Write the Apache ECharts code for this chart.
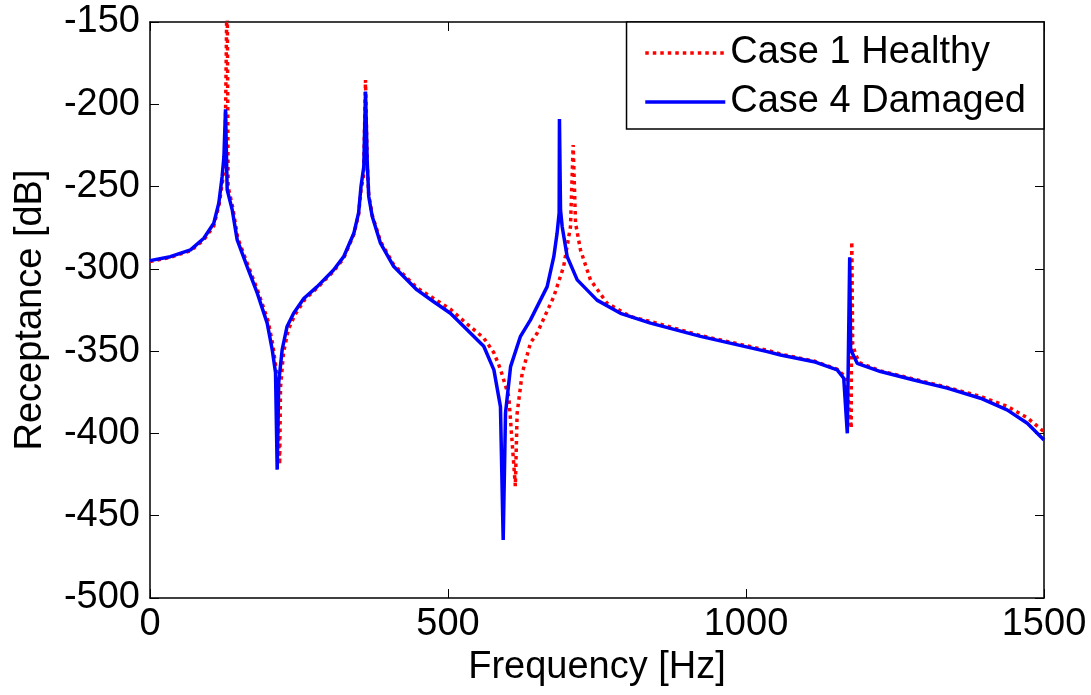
<!DOCTYPE html>
<html>
<head>
<meta charset="utf-8">
<script src="https://cdn.jsdelivr.net/npm/echarts@6/dist/echarts.min.js"></script>
<style>
html,body{margin:0;padding:0;background:#fff;}
#chart{width:1091px;height:695px;}
</style>
</head>
<body>
<div id="chart"></div>
<script>
// ---- data ----
const seriesNames = ['Case 1 Healthy', 'Case 4 Damaged'];
const xTicks = [0, 500, 1000, 1500];
const yTicks = [-500, -450, -400, -350, -300, -250, -200, -150];

const healthyFreq = [0, 34, 68, 90, 107, 116, 122, 126, 129.5, 131, 139, 147, 164, 181, 198, 206, 212, 217.5, 219, 224, 232, 243, 260, 282, 308, 325, 342, 350, 354, 358.5, 361.6, 364.4, 367, 373, 387, 409, 448, 476, 504, 532, 560, 577, 588, 602, 613, 616, 624.5, 638.4, 649.7, 664, 677.5, 694, 705.5, 710, 714, 722.3, 739, 767, 806, 839.8, 923.7, 1035.6, 1058, 1114, 1153, 1168, 1176.5, 1177.5, 1179, 1184, 1190, 1225.7, 1281.6, 1337.5, 1393.4, 1438, 1472, 1500];
const healthyDb   = [-295.5, -293, -289, -282.5, -274, -261, -246, -232, -120, -250, -263, -281, -297.5, -313.5, -331.5, -346, -362, -419, -372, -351, -337, -328, -318.5, -311, -301.5, -293.5, -279, -267, -252, -243, -185.2, -236, -255, -267.5, -283.5, -297.5, -311.5, -318, -324.5, -333.5, -342, -351, -361, -377.6, -432, -387.7, -363.4, -345, -339, -327.5, -316.9, -298.6, -274.4, -224.7, -272.3, -288.5, -306.7, -320.9, -329, -332, -340.5, -349.5, -351.8, -356, -361, -366, -397, -283.5, -346, -352, -357, -362, -367, -372, -377.5, -383.5, -390.5, -399];

const damagedFreq = [0, 34, 68, 90.3, 107, 115.5, 121, 124, 126.7, 129.5, 138, 146.3, 163, 180, 196.6, 205, 210.6, 213.4, 216, 221.8, 230, 241, 258, 280.5, 308, 325, 342, 350, 354, 358.7, 361.6, 364.4, 367, 372.8, 386.7, 409, 448, 476, 504, 532, 560, 577, 588, 592.6, 596.5, 605, 621.6, 638.4, 666.4, 677.5, 683, 686.5, 687, 688.8, 691.6, 700, 716.8, 750, 789.4, 839.8, 923.7, 1035.6, 1058, 1114, 1153, 1164, 1170, 1174, 1175.5, 1186.6, 1225.7, 1281.6, 1337.5, 1393.4, 1438, 1472, 1500];
const damagedDb   = [-295, -292.6, -288.5, -281.4, -272.3, -260, -244, -232, -203, -252, -264.2, -282.4, -298.6, -314.8, -333, -349, -363, -422, -369, -349, -335, -327, -318, -310.8, -300.7, -292.6, -278.4, -266, -250, -238, -192.3, -234, -256, -268, -284.4, -298.6, -312.8, -320, -327, -337, -347, -361.4, -383.7, -464.7, -387.6, -359.4, -341, -331, -310.8, -292.6, -278.4, -266, -209, -264.2, -274.4, -292.6, -306.7, -319, -327, -333, -341, -350.3, -352.3, -356.4, -361.4, -366.5, -399.9, -293, -349, -357.4, -362.4, -367.5, -372.5, -378.6, -385.7, -393.8, -404];

function pairs(xs, ys) { return xs.map((x, i) => [x, ys[i]]); }

const FONT = "'Liberation Sans', Arial, sans-serif";
const FS = 38;
const chart = echarts.init(document.getElementById('chart'), null, {renderer: 'canvas'});

const axisLineStyle = {color: '#000', width: 1.5};
const tickStyle = {show: true, inside: true, length: 9, lineStyle: {color: '#000', width: 1}};
chart.setOption({
  animation: false,
  backgroundColor: '#fff',
  grid: {left: 150, right: 47, top: 22, bottom: 97, show: false},
  legend: {
    data: seriesNames,
    orient: 'vertical',
    right: 47, top: 22,
    backgroundColor: '#fff',
    borderColor: '#000', borderWidth: 1.5, borderRadius: 0,
    padding: [12, 18, 8, 17],
    itemWidth: 80, itemHeight: 4, itemGap: 11,
    itemStyle: {opacity: 0},
    lineStyle: {width: 'inherit'},
    textStyle: {fontFamily: FONT, fontSize: FS, color: '#000', lineHeight: 38}
  },
  xAxis: [{
    type: 'value', min: xTicks[0], max: xTicks[xTicks.length - 1], interval: 500,
    name: 'Frequency [Hz]', nameLocation: 'middle', nameGap: 32,
    nameTextStyle: {fontFamily: FONT, fontSize: FS, color: '#000'},
    axisLine: {show: true, onZero: false, lineStyle: axisLineStyle},
    axisTick: tickStyle,
    axisLabel: {fontFamily: FONT, fontSize: FS, color: '#000', margin: 8, formatter: v => String(v)},
    splitLine: {show: false}
  }, {
    type: 'value', position: 'top', min: xTicks[0], max: xTicks[xTicks.length - 1], interval: 500,
    axisLine: {show: true, onZero: false, lineStyle: axisLineStyle},
    axisTick: tickStyle,
    axisLabel: {show: false}, splitLine: {show: false}
  }],
  yAxis: [{
    type: 'value', min: yTicks[0], max: yTicks[yTicks.length - 1], interval: 50,
    name: 'Receptance [dB]', nameLocation: 'middle', nameGap: 100,
    nameTextStyle: {fontFamily: FONT, fontSize: FS, color: '#000'},
    axisLine: {show: true, onZero: false, lineStyle: axisLineStyle},
    axisTick: tickStyle,
    axisLabel: {fontFamily: FONT, fontSize: FS, color: '#000', margin: 10, formatter: v => String(v)},
    splitLine: {show: false}
  }, {
    type: 'value', position: 'right', min: yTicks[0], max: yTicks[yTicks.length - 1], interval: 50,
    axisLine: {show: true, onZero: false, lineStyle: axisLineStyle},
    axisTick: tickStyle,
    axisLabel: {show: false}, splitLine: {show: false}
  }],
  series: [{
    name: seriesNames[0], type: 'line', xAxisIndex: 0, yAxisIndex: 0,
    data: pairs(healthyFreq, healthyDb),
    showSymbol: false, symbol: 'none', clip: true,
    lineStyle: {color: '#ff0000', width: 3.5, type: [3.5, 4]},
    itemStyle: {color: '#ff0000'}
  }, {
    name: seriesNames[1], type: 'line', xAxisIndex: 0, yAxisIndex: 0,
    data: pairs(damagedFreq, damagedDb),
    showSymbol: false, symbol: 'none', clip: true,
    lineStyle: {color: '#0000ff', width: 3.5},
    itemStyle: {color: '#0000ff'}
  }]
});
</script>
</body>
</html>
